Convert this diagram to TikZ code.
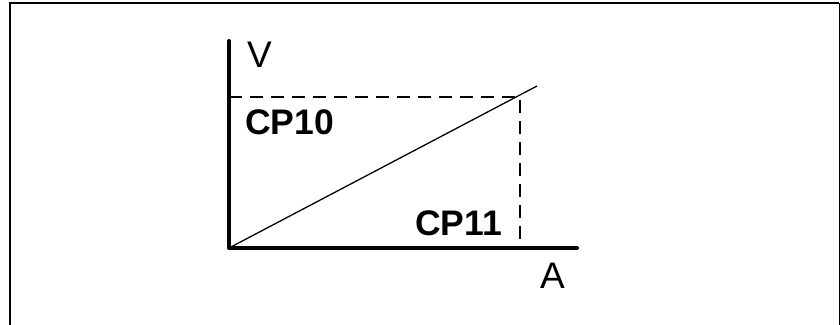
\documentclass[tikz,border=0pt]{standalone}
\usepackage{fontspec}
\setmainfont{Liberation Sans}
\begin{document}
\begin{tikzpicture}[x=1pt,y=-1pt,
  frameline/.style={line width=2.5pt},
  axisline/.style={line width=4pt,line cap=round,line join=round},
  guide/.style={line width=2pt,dash pattern=on 13pt off 8pt},
  curve/.style={line width=1.3pt},
  lbl/.style={anchor=base west,inner sep=0pt,font=\fontsize{37}{40}\selectfont},
  blbl/.style={anchor=base west,inner sep=0pt,font=\fontsize{35.5}{40}\selectfont\bfseries}]
\useasboundingbox (0,0) rectangle (840,324);
% frame
\coordinate (fbl) at (10,330);
\coordinate (ftl) at (10,3);
\coordinate (ftr) at (839,3);
\coordinate (fbr) at (839,330);
\draw[frameline] (fbl) -- (ftl) -- (ftr);
\draw[line width=1pt] (ftr) -- (fbr);
% axes
\coordinate (O) at (229,248);
\coordinate (Ytop) at (229,41);
\coordinate (Xend) at (577,248);
\coordinate (P) at (520,97);
\coordinate (Yp) at (229,97);
\coordinate (Xp) at (520,248);
\coordinate (Lend) at (537,86);
\draw[guide] (Yp) -- (P) -- (Xp);
\draw[curve] (O) -- (Lend);
\draw[axisline] (Ytop) -- (O) -- (Xend);
% labels
\node[lbl] (v) at (247,67) {V};
\node[lbl] (a) at (540,288) {A};
\node[blbl] (cp10) at (245,134) {CP10};
\node[blbl] (cp11) at (415,235) {CP11};
\end{tikzpicture}
\end{document}
